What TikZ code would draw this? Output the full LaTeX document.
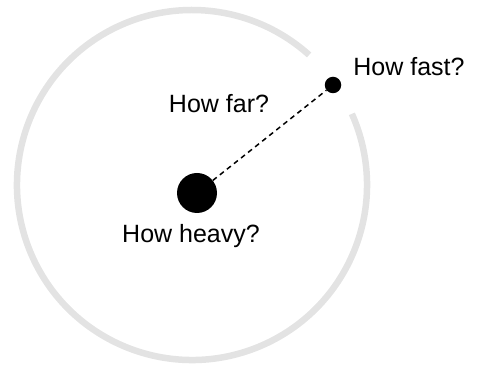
\documentclass[tikz,border=0pt]{standalone}
\usepackage{fontspec}
\setmainfont{Liberation Sans}
\usepackage{tikz}
\usetikzlibrary{positioning}
\definecolor{orbitgray}{RGB}{227,227,227}

\begin{document}
\begin{tikzpicture}[x=1pt, y=-1pt, every node/.style={font=\fontsize{25}{30}\selectfont}, body/.style={circle, fill=black, inner sep=0pt}, q/.style={anchor=base}]
\useasboundingbox (0,0) rectangle (483,366);
\draw[orbitgray, line width=6.5pt] (192,185) ++(-24:175) arc[start angle=-24, end angle=312, radius=175];
\node[body, minimum size=40pt] (sun) at (197,193) {};
\node[body, minimum size=16.5pt] (planet) at (333,85) {};
\draw[line width=1.5pt, dash pattern=on 5pt off 4pt] (sun)--(planet);
\node[q] (fast) at (409,76) {How fast?};
\node[q] (far) at (219,113) {How far?};
\node[q] (heavy) at (191,243) {How heavy?};
\end{tikzpicture}
\end{document}
